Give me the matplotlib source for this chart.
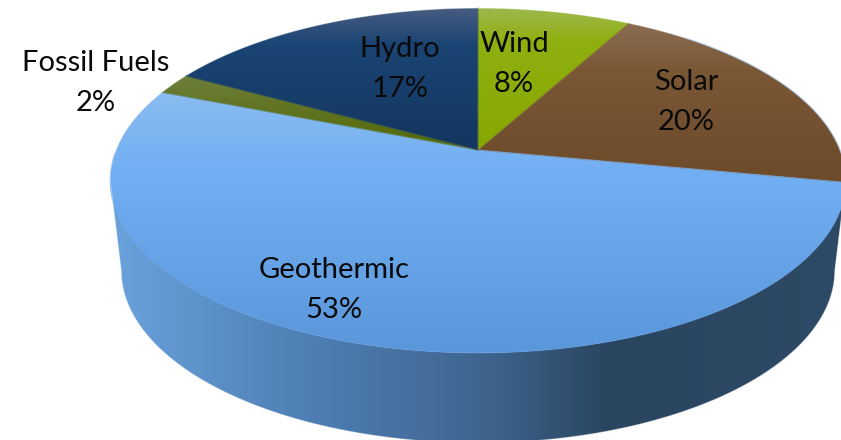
import numpy as np
import matplotlib
matplotlib.use('Agg')
import matplotlib.pyplot as plt
from matplotlib.colors import LinearSegmentedColormap, to_rgb
from matplotlib.patches import PathPatch
from matplotlib.path import Path

plt.rcParams['font.family'] = ['Lato', 'DejaVu Sans']

labels = ['Wind', 'Solar', 'Geothermic', 'Fossil Fuels', 'Hydro']
shares = [8, 20, 53, 2, 17]

W, H = 841, 440

# perspective pie: apex and radii in pixels
cx, cy = 478, 150
rx, ry = 362, 167
tilt = 0.1768
side_drop = 90
side_scale = 0.97

# vertical (y, colour) stops for each top face
face_stops = {
    'Wind': [(8, '#9db84e'), (40, '#90b010'), (150, '#87a700')],
    'Solar': [(20, '#8d6e54'), (70, '#7a5836'), (185, '#6c4a2a')],
    'Geothermic': [(85, '#8dbdf0'), (170, '#72aff3'), (353, '#5a96da')],
    'Fossil Fuels': [(74, '#6d7f3e'), (150, '#526800')],
    'Hydro': [(8, '#485c80'), (45, '#1a4473'), (150, '#14365f')],
}
side_stops = [(112, '#6aa2dc'), (300, '#4f80b6'), (478, '#3f6690'),
              (610, '#2a4560'), (841, '#2d4a66')]

label_pos = {
    'Wind': (514, 64),
    'Solar': (686, 102),
    'Geothermic': (334, 290),
    'Fossil Fuels': (96, 83),
    'Hydro': (400, 69),
}


def project(theta, scale=1.0, drop=0.0):
    # theta runs clockwise from the top of the disc
    u, v = np.sin(theta), np.cos(theta)
    w = 1 + tilt * v
    x = cx + scale * rx * u / w
    y = cy - ry * v / w
    return x, y + drop


def gradient_cmap(stops):
    lo, hi = stops[0][0], stops[-1][0]
    pts = [((p - lo) / (hi - lo), to_rgb(c)) for p, c in stops]
    return LinearSegmentedColormap.from_list('g', pts, N=512), lo, hi


def fill_gradient(ax, xs, ys, stops, horizontal=False):
    verts = np.column_stack([xs, ys])
    path = Path(np.vstack([verts, verts[0]]), closed=True)
    cmap, lo, hi = gradient_cmap(stops)
    ramp = np.linspace(0, 1, 512)
    if horizontal:
        im = ax.imshow(ramp[None, :], cmap=cmap, extent=[lo, hi, H, 0],
                       aspect='auto', zorder=2, interpolation='bilinear')
    else:
        im = ax.imshow(ramp[:, None], cmap=cmap, extent=[0, W, hi, lo],
                       aspect='auto', zorder=2, interpolation='bilinear')
    patch = PathPatch(path, transform=ax.transData, fc='none', ec='none')
    ax.add_patch(patch)
    im.set_clip_path(patch)


fig = plt.figure(figsize=(W / 100, H / 100), dpi=100)
ax = fig.add_axes([0, 0, 1, 1])
ax.set_axis_off()

# side wall: from the widest points of the top rim down round the lower rim
t = np.linspace(0, 2 * np.pi, 1441)
top_x, top_y = project(t)
low_x, low_y = project(t, side_scale, side_drop)
i_r, i_l = np.argmax(top_x), np.argmin(top_x)
j_r, j_l = np.argmax(low_x), np.argmin(low_x)
wall_x = np.concatenate([top_x[i_r:i_l + 1][::-1], low_x[j_r:j_l + 1]])
wall_y = np.concatenate([top_y[i_r:i_l + 1][::-1], low_y[j_r:j_l + 1]])
fill_gradient(ax, wall_x, wall_y, side_stops, horizontal=True)

# top faces
edges = np.cumsum([0] + shares) / sum(shares) * 2 * np.pi
for name, a, b in zip(labels, edges[:-1], edges[1:]):
    arc = np.linspace(a, b, 200)
    x, y = project(arc)
    fill_gradient(ax, np.r_[cx, x], np.r_[cy, y], face_stops[name])
    # soften the clipped slice edges
    mid = face_stops[name][1][1]
    ax.plot([x[0], cx, x[-1]], [y[0], cy, y[-1]], color=mid, lw=0.8, alpha=0.5,
            zorder=3)

# soft rim where the top face meets the wall
rim = np.linspace(edges[1] + 0.2, edges[3] - 0.4, 400)
rim_x, rim_y = project(rim)
ax.plot(rim_x, rim_y, color='#5f9be0', lw=0.8, alpha=0.6, zorder=3)

# light outline: back of the top rim, then the wall's outer edge
n_top = i_l - i_r + 1
ax.plot(wall_x[n_top - 1:], wall_y[n_top - 1:], color='white', lw=0.7, alpha=0.4,
        zorder=3)
ax.plot([wall_x[0], wall_x[-1]], [wall_y[0], wall_y[-1]], color='white', lw=0.7,
        alpha=0.4, zorder=3)
back = np.linspace(t[i_l] - 2 * np.pi, t[i_r], 600)
back_x, back_y = project(back)
ax.plot(back_x, back_y, color='white', lw=0.7, alpha=0.4, zorder=3)

for name, share in zip(labels, shares):
    x, y = label_pos[name]
    ax.text(x, y, f'{name}\n{share}%', ha='center', va='center', fontsize=21,
            color='#0a0a0a', linespacing=1.64, zorder=5)

ax.set_xlim(0, W)
ax.set_ylim(H, 0)
fig.savefig('out.png', dpi=100)
